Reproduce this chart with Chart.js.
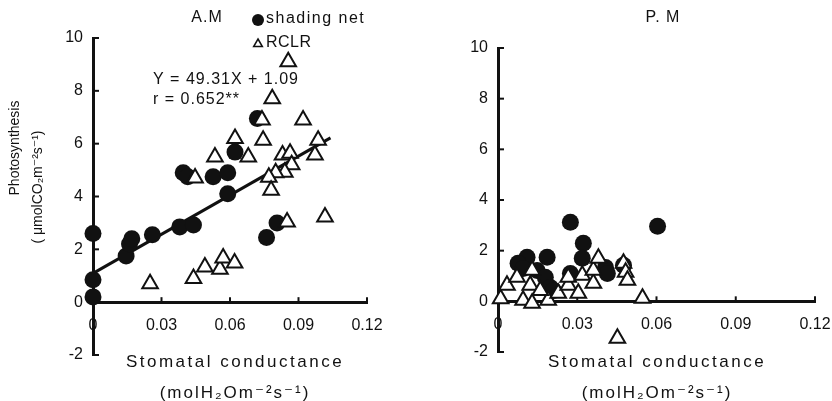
<!DOCTYPE html>
<html>
<head>
<meta charset="utf-8">
<script src="https://cdn.jsdelivr.net/npm/chart.js@4.4.1/dist/chart.umd.min.js"></script>
<style>
html,body{margin:0;padding:0;background:#fff;}
#wrap{position:relative;width:832px;height:401px;overflow:hidden;}
.pane{position:absolute;top:0;width:416px;height:401px;}
</style>
</head>
<body>
<div id="wrap">
  <div class="pane" style="left:0"><canvas id="am" width="416" height="401"></canvas></div>
  <div class="pane" style="left:416px"><canvas id="pm" width="416" height="401"></canvas></div>
</div>
<script>
/* Fotosintesis vs conductancia estomatica, A.M / P.M */
const FONT = '"Liberation Sans", Arial, "DejaVu Sans", sans-serif';
const INK = '#111';

// ejes
const xTicks = [0, 0.03, 0.06, 0.09, 0.12];
const yTicks = [-2, 0, 2, 4, 6, 8, 10];

// A.M - shading net (circulos)
const amShadeX = [0, 0, 0, 0.0145, 0.016, 0.017, 0.026, 0.038, 0.044, 0.059, 0.0395, 0.0415, 0.0526, 0.059, 0.0622, 0.072, 0.0806, 0.076];
const amShadeY = [2.6, 0.85, 0.2, 1.75, 2.2, 2.4, 2.55, 2.85, 2.92, 4.1, 4.9, 4.75, 4.75, 4.9, 5.68, 6.95, 3.0, 2.45];
// A.M - RCLR (triangulos)
const amRclrX = [0.025, 0.044, 0.049, 0.0556, 0.057, 0.062, 0.0855, 0.0785, 0.074, 0.092, 0.0622, 0.0745, 0.0534, 0.068, 0.0986, 0.0972, 0.083, 0.0863, 0.087, 0.084, 0.08, 0.077, 0.078, 0.0447, 0.085, 0.1016];
const amRclrY = [0.7, 0.9, 1.33, 1.25, 1.67, 1.48, 9.1, 7.7, 6.9, 6.9, 6.2, 6.13, 5.5, 5.5, 6.13, 5.57, 5.57, 5.64, 5.2, 4.92, 4.9, 4.73, 4.24, 4.7, 3.03, 3.22];
// recta de regresion A.M  (Y = 49.31X + 1.09)
const regX = [0, 0.104];
const regY = [1.09, 6.22];

// P.M - shading net
const pmShadeX = [0.0274, 0.0604, 0.0323, 0.0319, 0.0186, 0.011, 0.0076, 0.0095, 0.0148, 0.0179, 0.0198, 0.0274, 0.0407, 0.0414, 0.0475, 0.021];
const pmShadeY = [3.12, 2.96, 2.29, 1.7, 1.74, 1.74, 1.5, 1.3, 1.22, 0.95, 0.55, 1.1, 1.34, 1.1, 1.42, 0.43];
// P.M - RCLR
const pmRclrX = [0.001, 0.0034, 0.0072, 0.0129, 0.0122, 0.0095, 0.0129, 0.019, 0.0228, 0.0266, 0.0266, 0.0304, 0.0319, 0.0361, 0.0361, 0.038, 0.0475, 0.0483, 0.049, 0.0547, 0.0452, 0.016];
const pmRclrY = [0.1, 0.63, 0.95, 1.23, 0.63, 0.04, -0.08, 0.04, 0.32, 0.63, 0.95, 0.32, 1.03, 0.71, 1.23, 1.7, 1.5, 1.15, 0.83, 0.12, -1.46, 0.43];

const pts = (xs, ys) => xs.map((x, i) => ({x, y: ys[i]}));

// textos sueltos (titulos, leyenda, ecuacion)
const annot = {
  id: 'annot',
  afterDraw(chart, args, opts){
    const ctx = chart.ctx;
    (opts.items || []).forEach(it => {
      ctx.save();
      ctx.fillStyle = INK;
      ctx.font = (it.size || 16) + 'px ' + FONT;
      ctx.letterSpacing = (it.ls || 0) + 'px';
      ctx.textAlign = it.align || 'center';
      ctx.textBaseline = 'middle';
      ctx.translate(it.x, it.y);
      if(it.rot) ctx.rotate(it.rot * Math.PI / 180);
      ctx.fillText(it.t, 0, 0);
      ctx.restore();
    });
    (opts.marks || []).forEach(m => {
      ctx.save();
      ctx.fillStyle = m.fill; ctx.strokeStyle = INK; ctx.lineWidth = 1.5;
      ctx.beginPath();
      if(m.shape === 'circle') ctx.arc(m.x, m.y, m.r, 0, Math.PI * 2);
      else { ctx.moveTo(m.x, m.y - m.r); ctx.lineTo(m.x + m.r * 0.87, m.y + m.r * 0.5); ctx.lineTo(m.x - m.r * 0.87, m.y + m.r * 0.5); ctx.closePath(); }
      ctx.fill(); if(m.shape !== 'circle') ctx.stroke();
      ctx.restore();
    });
  }
};

// marcas cortas hacia adentro
const innerTicks = {
  id: 'innerTicks',
  beforeDatasetsDraw(chart){
    const {ctx, scales: {x, y}} = chart;
    const y0 = y.getPixelForValue(0);
    ctx.save(); ctx.strokeStyle = INK; ctx.lineWidth = 2;
    x.ticks.forEach(t => {
      if(t.value === 0) return;
      const px = x.getPixelForValue(t.value);
      ctx.beginPath(); ctx.moveTo(px, y0); ctx.lineTo(px, y0 - 5); ctx.stroke();
    });
    y.ticks.forEach(t => {
      const py = y.getPixelForValue(t.value);
      ctx.beginPath(); ctx.moveTo(x.left, py); ctx.lineTo(x.left + 6, py); ctx.stroke();
    });
    ctx.restore();
  }
};
Chart.register(annot, innerTicks);

function panel(id, cfg){
  const datasets = [
    {label: 'RCLR', data: pts(cfg.rx, cfg.ry), pointStyle: 'triangle', pointRadius: 9,
     backgroundColor: '#fff', borderColor: INK, borderWidth: 2, order: 0, clip: false},
    {label: 'shading net', data: pts(cfg.sx, cfg.sy), pointStyle: 'circle', pointRadius: 8.5,
     backgroundColor: INK, borderColor: INK, borderWidth: 0, order: 1, clip: false}
  ];
  if(cfg.reg) datasets.push({label: 'reg', data: pts(regX, regY), showLine: true, pointRadius: 0,
     borderColor: INK, borderWidth: 3, order: 2, clip: false});
  return new Chart(document.getElementById(id), {
    type: 'scatter',
    data: {datasets},
    options: {
      responsive: false, animation: false, events: [],
      layout: {padding: cfg.pad},
      plugins: {legend: {display: false}, tooltip: {enabled: false}, annot: {items: cfg.items, marks: cfg.marks || []}},
      scales: {
        x: {type: 'linear', min: xTicks[0], max: xTicks[xTicks.length - 1], position: {y: 0},
            afterFit: s => { s.height = 0; s.paddingLeft = 0; s.paddingRight = 0; },
            afterBuildTicks: s => { s.ticks = xTicks.map(v => ({value: v})); },
            grid: {drawOnChartArea: false, drawTicks: false},
            border: {color: INK, width: 3},
            ticks: {padding: 14, color: INK, font: {size: 16, family: FONT}, maxRotation: 0, autoSkip: false,
                    callback: v => v === 0 ? '0' : v.toFixed(2)}},
        y: {type: 'linear', min: yTicks[0], max: yTicks[yTicks.length - 1],
            afterFit: s => { s.width = 45; },
            afterBuildTicks: s => { s.ticks = yTicks.map(v => ({value: v})); },
            grid: {drawOnChartArea: false, drawTicks: false},
            border: {color: INK, width: 3},
            ticks: {padding: 10, color: INK, font: {size: 16, family: FONT}}}
      }
    }
  });
}

panel('am', {
  sx: amShadeX, sy: amShadeY, rx: amRclrX, ry: amRclrY, reg: true,
  pad: {left: 48, right: 49, top: 38, bottom: 46},
  items: [
    {t: 'A.M', x: 207, y: 18, ls: 1},
    {t: 'shading net', x: 266, y: 19, align: 'left', ls: 1.5},
    {t: 'RCLR', x: 266, y: 43, align: 'left', ls: 0.5},
    {t: 'Y = 49.31X + 1.09', x: 153, y: 80, align: 'left', ls: 1},
    {t: 'r = 0.652**', x: 153, y: 100, align: 'left', ls: 1},
    {t: 'Photosynthesis', x: 15, y: 148, rot: -90, size: 14},
    {t: '( μmolCO₂m⁻²s⁻¹)', x: 38, y: 187, rot: -90, size: 14},
    {t: 'Stomatal conductance', x: 235, y: 362, size: 17, ls: 2.5},
    {t: '(molH₂Om⁻²s⁻¹)', x: 235, y: 393, size: 17, ls: 2}
  ],
  marks: [
    {shape: 'circle', x: 258, y: 20, r: 6, fill: INK},
    {shape: 'triangle', x: 258, y: 44, r: 5, fill: '#fff'}
  ]
});

panel('pm', {
  sx: pmShadeX, sy: pmShadeY, rx: pmRclrX, ry: pmRclrY, reg: false,
  pad: {left: 37, right: 17, top: 48, bottom: 49},
  items: [
    {t: 'P. M', x: 247, y: 18, ls: 1},
    {t: 'Stomatal conductance', x: 241, y: 362, size: 17, ls: 2.5},
    {t: '(molH₂Om⁻²s⁻¹)', x: 241, y: 393, size: 17, ls: 2}
  ]
});
</script>
</body>
</html>
